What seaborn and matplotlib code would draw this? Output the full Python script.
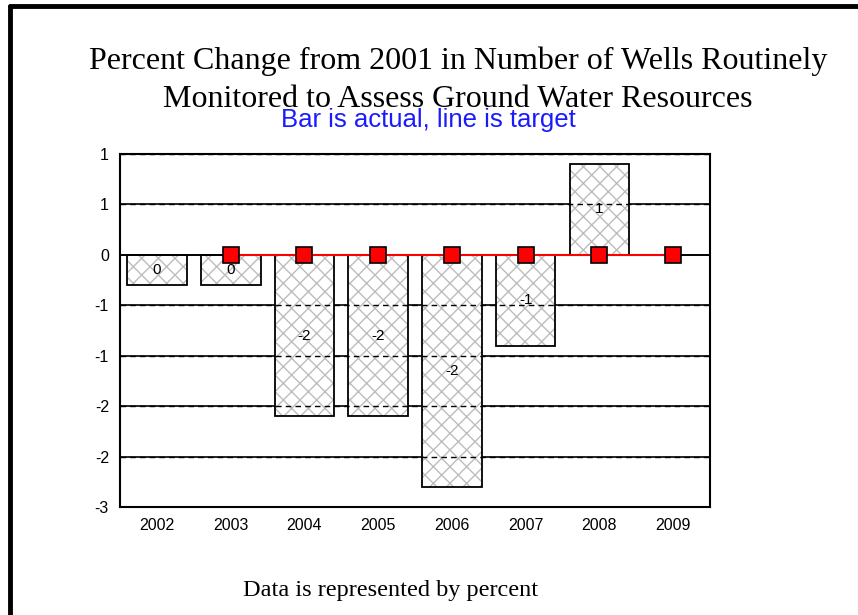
import numpy as np
import pandas as pd
import matplotlib
matplotlib.use("Agg")
import matplotlib.pyplot as plt
import matplotlib.ticker as mticker
from matplotlib.container import BarContainer
import seaborn as sns

# Dati
years = ["2002", "2003", "2004", "2005", "2006", "2007", "2008", "2009"]
actual = [-0.3, -0.3, -1.6, -1.6, -2.3, -0.9, 0.9, np.nan]
target = [np.nan, 0, 0, 0, 0, 0, 0, 0]

title = "Percent Change from 2001 in Number of Wells Routinely\nMonitored to Assess Ground Water Resources"
subtitle = "Bar is actual, line is target"
footer = "Data is represented by percent"

df = pd.DataFrame({"year": years, "actual": actual})


def round_label(v):
    # arrotondamento "half away from zero", senza -0
    if v is None or np.isnan(v):
        return ""
    r = int(np.sign(v) * np.floor(abs(v) + 0.5))
    return str(r)


sns.set_style("white")
plt.rcParams["font.family"] = ["Liberation Sans", "DejaVu Sans"]
plt.rcParams["text.color"] = "black"

fig = plt.figure(figsize=(8.58, 6.15), dpi=100)
ax = fig.add_axes([0.1399, 0.1756, 0.6876, 0.574])

# griglia solida sotto le barre
ax.set_axisbelow(True)
ax.yaxis.set_major_locator(mticker.MultipleLocator(0.5))
ax.grid(axis="y", color="black", linewidth=1.2, linestyle="-")

# barre: tratteggio grigio + contorno nero
sns.barplot(data=df, x="year", y="actual", order=years, color="white",
            edgecolor="#bdbdbd", hatch="xx", linewidth=0, width=0.81,
            errorbar=None, ax=ax, zorder=2)
sns.barplot(data=df, x="year", y="actual", order=years, fill=False,
            edgecolor="black", linewidth=1.3, width=0.81,
            errorbar=None, ax=ax, zorder=3)

# griglia tratteggiata sopra le barre
for yv in np.arange(-2.5, 1.01, 0.5):
    if abs(yv) > 1e-9:
        ax.axhline(yv, color="black", linewidth=1.0, linestyle=(0, (4, 3)), zorder=3.5)
ax.axhline(0, color="black", linewidth=1.2, zorder=3.5)

# etichette al centro delle barre
bars = [b for b in ax.containers[0] if b is not None]
vals = [v for v in actual if not np.isnan(v)]
ax.bar_label(BarContainer(bars, datavalues=vals), labels=[round_label(v) for v in vals],
             label_type="center", fontsize=11, color="black", zorder=5)

# linea obiettivo
sns.lineplot(x=np.arange(len(years)), y=target, color="red", linewidth=1.5,
             marker="s", markersize=11, markerfacecolor="red",
             markeredgecolor="black", markeredgewidth=1.2, ax=ax, zorder=4)

ax.set_xlim(-0.5, len(years) - 0.5)
ax.set_ylim(-2.5, 1.0)
ax.yaxis.set_major_formatter(mticker.FuncFormatter(lambda v, p: round_label(v)))
ax.set_xticks(range(len(years)))
ax.set_xticklabels(years)
ax.set_xlabel("")
ax.set_ylabel("")
ax.tick_params(axis="both", length=0, labelsize=11.5, colors="black", pad=8)
for s in ax.spines.values():
    s.set_color("black")
    s.set_linewidth(1.5)
    s.set_visible(True)

# titoli e nota
fig.text(0.534, 0.869, title, ha="center", va="center", fontsize=23, color="black",
         family=["Liberation Serif", "DejaVu Serif"], linespacing=1.42)
fig.text(0.499, 0.805, subtitle, ha="center", va="center", fontsize=18.5,
         color="#1a1aff", family=["Liberation Sans Narrow", "Liberation Sans", "DejaVu Sans"])
fig.text(0.455, 0.040, footer, ha="center", va="center", fontsize=17.5, color="black",
         family=["Liberation Serif", "DejaVu Serif"])

# cornice (solo sopra e a sinistra)
fig.add_artist(plt.Line2D([0.0112, 1.0], [0.9898, 0.9898], transform=fig.transFigure,
                          color="black", linewidth=3.5))
fig.add_artist(plt.Line2D([0.0112, 0.0112], [0.0, 0.9898], transform=fig.transFigure,
                          color="black", linewidth=3.5))

fig.savefig("out.png", dpi=100)
